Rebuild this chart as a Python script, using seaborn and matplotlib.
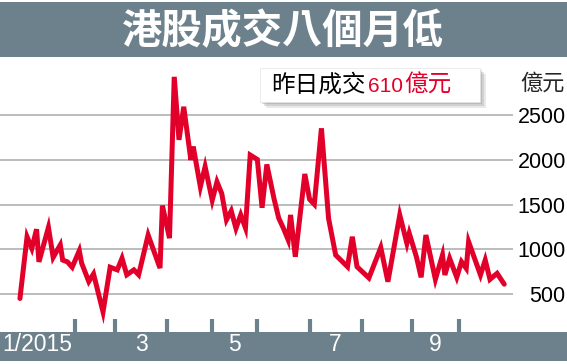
# HK stock turnover chart - 8 month low
import numpy as np
import matplotlib
matplotlib.use("Agg")
import matplotlib.pyplot as plt
from matplotlib.patches import Rectangle
import seaborn as sns

# ---- data (trading-day index from 2 Jan 2015, turnover in HK$ 100m) ----
day_idx = [0, 3, 5, 7, 8, 12, 14, 17, 18, 20, 22, 25, 26, 29, 31, 35, 38, 41,
           43, 45, 48, 50, 54, 59, 60, 63, 65, 67, 69, 72, 73, 76, 78, 81, 83,
           85, 87, 89, 91, 93, 95, 97, 100, 102, 104, 107, 109, 111, 113, 114,
           116, 120, 122, 124, 127, 130, 133, 138, 140, 142, 147, 152, 155,
           160, 163, 164, 167, 169, 171, 175, 178, 179, 181, 184, 186, 188,
           189, 194, 196, 198, 201, 204]
turnover = [450, 1140, 1010, 1225, 860, 1245, 910, 1050, 880, 860, 800, 985,
            845, 640, 725, 300, 800, 770, 900, 715, 770, 715, 1160, 790, 1490,
            1125, 2930, 2225, 2595, 2000, 2150, 1700, 1925, 1550, 1755, 1625,
            1330, 1430, 1235, 1385, 1240, 2055, 2005, 1465, 1950, 1570, 1350,
            1235, 1105, 1385, 917, 1843, 1560, 1504, 2354, 1347, 936, 805, 1141,
            805, 680, 1020, 638, 1384, 1067, 1179, 917, 687, 1160, 664, 936,
            713, 899, 687, 861, 787, 1085, 713, 880, 664, 731, 610]

# first trading-day index of each month Feb..Oct
month_starts = [23, 40, 62, 81, 100, 122, 144, 165, 185]
month_labels = ["1/2015", "3", "5", "7", "9"]
y_ticks = [500, 1000, 1500, 2000, 2500]

title = "港股成交八個月低"
last_note = "昨日成交"
last_value = "610"
unit = "億元"

# ---- style ----
sns.set_style("white")
plt.rcParams["font.family"] = ["Liberation Sans", "DejaVu Sans"]
CJK = ["Noto Sans CJK TC", "DejaVu Sans"]
BAR = "#6d818c"
RED = "#e2002a"

W, H = 567, 364
fig = plt.figure(figsize=(W / 100, H / 100), dpi=100)
fig.patch.set_facecolor("white")


def fx(px):
    return px / W


def fy(py):
    return 1 - py / H


# title bar and bottom bar
fig.patches.append(Rectangle((0, fy(57)), 1, (57 - 2) / H, transform=fig.transFigure,
                             facecolor=BAR, edgecolor="none", zorder=0))
fig.patches.append(Rectangle((0, fy(361)), 1, (361 - 332) / H, transform=fig.transFigure,
                             facecolor=BAR, edgecolor="none", zorder=0))
fig.text(fx(283), fy(32), title, color="white", fontsize=29, fontweight="heavy",
         family=CJK, ha="center", va="center")

ax = fig.add_axes([0, fy(332), fx(513), (332 - 57) / H])
ax.set_facecolor("none")
ax.set_zorder(2)

sns.lineplot(x=day_idx, y=turnover, ax=ax, color=RED, linewidth=3.6,
             sort=False, zorder=3)
ax.lines[0].set_solid_joinstyle("miter")

ax.set_xlim(-8.4, 207.7)
ax.set_ylim(75, 3152)

# horizontal grid
for v in y_ticks:
    ax.axhline(v, color="#a9a9a9", linewidth=1.1, zorder=1)

for s in ax.spines.values():
    s.set_visible(False)

# y labels on right
ax.yaxis.tick_right()
ax.set_yticks(y_ticks)
ax.set_yticklabels([str(v) for v in y_ticks], fontsize=15.5, color="black")
ax.tick_params(axis="y", length=0, pad=38)
for lab in ax.get_yticklabels():
    lab.set_horizontalalignment("right")

# month boundary ticks + month labels
ax.set_xticks(month_starts)
ax.set_xticklabels([])
ax.tick_params(axis="x", which="major", bottom=True, direction="in",
               length=9.5, width=3, color=BAR)
spans = [ax.get_xlim()[0]] + month_starts
label_pos = [(spans[i] + spans[i + 1]) / 2 for i in range(0, 9, 2)]
ax.set_xticks(label_pos, minor=True)
ax.set_xticklabels(month_labels, minor=True, fontsize=16.5, color="white")
ax.tick_params(axis="x", which="minor", bottom=True, labelbottom=True,
               length=0, pad=1)
ax.set_xlabel("")
ax.set_ylabel("")

# unit label
fig.text(fx(565), fy(83), unit, fontsize=16, family=CJK, ha="right", va="center")

# latest value box with shadow
for off, a in [(6, 0.18), (4, 0.25), (2, 0.3)]:
    fig.patches.append(Rectangle((fx(260 + off), fy(102 + off)), (480 - 260) / W, (102 - 68) / H,
                                 transform=fig.transFigure, facecolor="#888888",
                                 edgecolor="none", alpha=a, zorder=4))
fig.patches.append(Rectangle((fx(260), fy(102)), (480 - 260) / W, (102 - 68) / H,
                             transform=fig.transFigure, facecolor="white",
                             edgecolor="#e4e4e4", linewidth=0.5, zorder=5))
fig.text(fx(271), fy(85), last_note, fontsize=17, family=CJK, ha="left",
         va="center", color="black", zorder=6)
fig.text(fx(368), fy(86), last_value, fontsize=15, ha="left", va="center",
         color=RED, zorder=6)
fig.text(fx(404), fy(85), unit, fontsize=17, family=CJK, ha="left",
         va="center", color=RED, zorder=6)

fig.savefig("out.png", dpi=100)
